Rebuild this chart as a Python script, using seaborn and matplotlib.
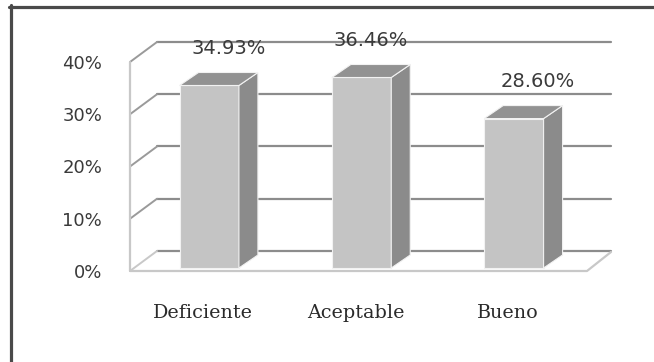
import matplotlib
matplotlib.use("Agg")
import matplotlib.pyplot as plt
import seaborn as sns
import pandas as pd
from matplotlib.transforms import Affine2D, IdentityTransform
from matplotlib.patches import Polygon
from matplotlib.lines import Line2D

categories = ["Deficiente", "Aceptable", "Bueno"]
values = [34.93, 36.46, 28.60]
value_labels = ["34.93%", "36.46%", "28.60%"]
y_ticks = [0, 10, 20, 30, 40]
y_tick_labels = ["0%", "10%", "20%", "30%", "40%"]

# label nudges (pixels) as placed in the original
label_dx = [19, 9, 24]

sns.set_style("white")
W, H = 654, 362
fig = plt.figure(figsize=(W / 100, H / 100), dpi=100)
ax = fig.add_axes([130 / W, 91 / H, 457 / W, 209 / H])

df = pd.DataFrame({"cat": categories, "val": values})
front_col = "#c4c4c4"
side_col = "#8b8b8b"
top_col = "#929292"
grid_col = "#8c8c8c"
floor_col = "#c8c8c8"

sns.barplot(data=df, x="cat", y="val", color=front_col, saturation=1,
            width=0.39, ax=ax, edgecolor="#f2f2f2", linewidth=0.8, zorder=4)
ax.set_xlim(-0.52, 2.48)
ax.set_ylim(0, 40)
for s in ax.spines.values():
    s.set_visible(False)
ax.set_xlabel("")
ax.set_ylabel("")
ax.set_yticks(y_ticks)
ax.set_yticklabels(y_tick_labels, fontsize=13, color="#3a3a3a", family="DejaVu Sans")
ax.tick_params(axis="y", length=0, pad=20)
ax.tick_params(axis="x", length=0, pad=24)
for t in ax.get_xticklabels():
    t.set_fontfamily("DejaVu Serif")
    t.set_fontsize(13.8)
    t.set_color("#2a2a2a")
    t.set_transform(t.get_transform() + Affine2D().translate(-6, 0))
ax.set_facecolor("none")
ax.grid(False)

DX, DY = 27, 20      # wall depth (pixels)
BDX, BDY = 19, 13    # bar depth (pixels)
BSHIFT = 3           # bars sit slightly behind the front plane

trD = ax.transData
ident = IdentityTransform()
x0d, x1d = ax.get_xlim()

# back wall gridlines and left-wall diagonals
for v in y_ticks:
    (px0, py), = trD.transform([(x0d, v)])
    (px1, _), = trD.transform([(x1d, v)])
    ax.add_line(Line2D([px0 + DX, px1 + DX - 3], [py + DY, py + DY], transform=ident,
                       color=grid_col, lw=1.6, zorder=1, clip_on=False))
    dcol = floor_col if v == 0 else "#9a9a9a"
    ax.add_line(Line2D([px0, px0 + DX], [py, py + DY], transform=ident,
                       color=dcol, lw=1.4, zorder=1, clip_on=False))

# left wall front edge
(lx, ly0), = trD.transform([(x0d, 0)])
(_, ly1), = trD.transform([(x0d, 40)])
ax.add_line(Line2D([lx, lx], [ly0, ly1], transform=ident, color=floor_col,
                   lw=1.6, zorder=1, clip_on=False))
# floor front edge
(rx, _), = trD.transform([(x1d, 0)])
ax.add_line(Line2D([lx, rx, rx + DX - 3], [ly0, ly0, ly0 + DY - 1], transform=ident,
                   color=floor_col, lw=1.6, zorder=1, clip_on=False))

# bars: shift, then add side and top faces
bars = list(ax.patches)
shift_tr = trD + Affine2D().translate(0, BSHIFT)
for p in bars:
    p.set_transform(shift_tr)
    x = p.get_x()
    w = p.get_width()
    h = p.get_height()
    (xl, yb), = trD.transform([(x, 0)])
    (xr, yt), = trD.transform([(x + w, h)])
    yb += BSHIFT
    yt += BSHIFT
    side = Polygon([(xr, yb), (xr, yt), (xr + BDX, yt + BDY), (xr + BDX, yb + BDY)],
                   closed=True, transform=ident, facecolor=side_col,
                   edgecolor="#f2f2f2", lw=0.8, zorder=4, clip_on=False)
    top = Polygon([(xl, yt), (xr, yt), (xr + BDX, yt + BDY), (xl + BDX, yt + BDY)],
                  closed=True, transform=ident, facecolor=top_col,
                  edgecolor="#f2f2f2", lw=0.8, zorder=4, clip_on=False)
    ax.add_patch(side)
    ax.add_patch(top)

# value labels
for i, (v, lab) in enumerate(zip(values, value_labels)):
    ax.annotate(lab, xy=(i, v), xytext=(label_dx[i], 40), textcoords="offset pixels",
                ha="center", va="center", fontsize=14, color="#3a3a3a",
                family="DejaVu Sans", zorder=6, annotation_clip=False)

# outer frame
fig.add_artist(Line2D([10.5 / W, 10.5 / W], [0, 1 - 5 / H], transform=fig.transFigure,
                      color="#4a4a4a", lw=2.3))
fig.add_artist(Line2D([9 / W, 1], [1 - 6.5 / H, 1 - 6.5 / H], transform=fig.transFigure,
                      color="#4a4a4a", lw=2.3))

fig.savefig("out.png", dpi=100, facecolor="white")
